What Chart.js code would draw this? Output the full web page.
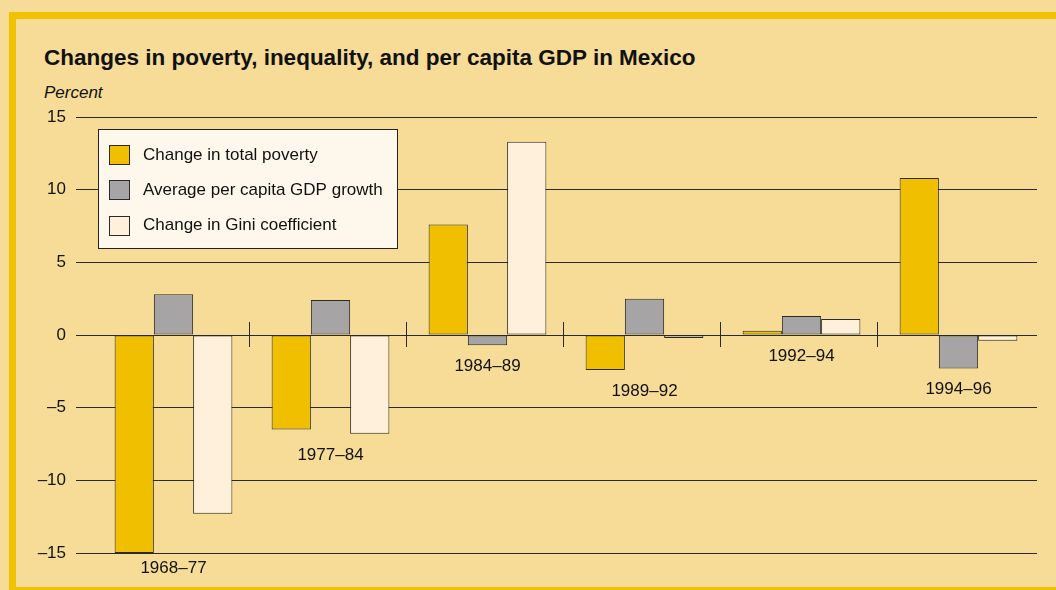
<!DOCTYPE html>
<html>
<head>
<meta charset="utf-8">
<script src="https://cdn.jsdelivr.net/npm/chart.js@4.4.1/dist/chart.umd.min.js"></script>
<style>
  html, body { margin: 0; padding: 0; }
  body {
    width: 1056px; height: 590px; overflow: hidden; position: relative;
    background: #f6dc97;
    font-family: "Liberation Sans", Arial, sans-serif;
  }
  #frame {
    position: absolute; left: 9px; top: 12px; width: 1100px; height: 568px;
    border-top: 7px solid #f2c200; border-left: 7px solid #f2c200; border-bottom: 7px solid #f2c200;
  }
  #title {
    position: absolute; left: 44px; top: 45px;
    font-size: 22.5px; font-weight: bold; color: #111;
  }
  #unit {
    position: absolute; left: 44px; top: 83px;
    font-size: 17px; font-style: italic; color: #111;
  }
  canvas { position: absolute; left: 0; top: 0; }
</style>
</head>
<body>
<div id="frame"></div>
<div id="title">Changes in poverty, inequality, and per capita GDP in Mexico</div>
<div id="unit">Percent</div>
<canvas id="chart" width="1056" height="590"></canvas>

<script>

const periods = ["1968–77", "1977–84", "1984–89", "1989–92", "1992–94", "1994–96"];

const povertyChange = [-15.0, -6.5, 7.6, -2.4, 0.3, 10.8];
const gdpGrowth = [2.8, 2.4, -0.7, 2.5, 1.3, -2.3];
const giniChange = [-12.3, -6.8, 13.3, -0.2, 1.1, -0.4];

const yTicks = [-15, -10, -5, 0, 5, 10, 15];

const FONT = '"Liberation Sans", Arial, sans-serif';
const INK = "#2a2a2a";

// separators between periods and the period labels under each group
const periodMarks = {
    id: "periodMarks",
    afterDatasetsDraw(chart) {
        const { ctx, chartArea } = chart;
        const x = chart.scales.x;
        const y = chart.scales.y;
        const zero = y.getPixelForValue(0);

        ctx.save();
        ctx.strokeStyle = INK;
        ctx.lineWidth = 1;
        for (let i = 0; i < periods.length - 1; i++) {
            const px = Math.round((x.getPixelForValue(i) + x.getPixelForValue(i + 1)) / 2) - 2.5;
            ctx.beginPath();
            ctx.moveTo(px, zero - 13);
            ctx.lineTo(px, zero + 12);
            ctx.stroke();
        }

        ctx.fillStyle = "#111";
        ctx.font = "17px " + FONT;
        ctx.textAlign = "center";
        ctx.textBaseline = "middle";
        periods.forEach((p, i) => {
            const low = Math.min(0, povertyChange[i], gdpGrowth[i], giniChange[i]);
            let ly = y.getPixelForValue(low) + 21;
            ly = Math.min(ly, chartArea.bottom + 15);
            ctx.fillText(p, x.getPixelForValue(i), ly);
        });
        ctx.restore();
    }
};

// boxed legend inside the plot
const boxLegend = {
    id: "boxLegend",
    afterDatasetsDraw(chart) {
        const { ctx } = chart;
        const left = 98, top = 129, w = 299, h = 119;
        ctx.save();
        ctx.fillStyle = "#fdf7ec";
        ctx.fillRect(left, top, w, h);
        ctx.strokeStyle = "#222";
        ctx.lineWidth = 1;
        ctx.strokeRect(left + 0.5, top + 0.5, w, h);

        ctx.font = "17px " + FONT;
        ctx.textBaseline = "middle";
        ctx.textAlign = "left";
        chart.data.datasets.forEach((ds, i) => {
            const cy = 155 + i * 35.3;
            ctx.fillStyle = ds.backgroundColor;
            ctx.fillRect(109, Math.round(cy - 10), 21, 20);
            ctx.strokeStyle = INK;
            ctx.strokeRect(109.5, Math.round(cy - 10) + 0.5, 20, 19);
            ctx.fillStyle = "#111";
            ctx.fillText(ds.label, 143, cy);
        });
        ctx.restore();
    }
};

const ctx = document.getElementById("chart").getContext("2d");

const chart = new Chart(ctx, {
    type: "bar",
    data: {
        labels: periods,
        datasets: [
            {
                label: "Change in total poverty",
                data: povertyChange,
                backgroundColor: "#f0c000"
            },
            {
                label: "Average per capita GDP growth",
                data: gdpGrowth,
                backgroundColor: "#a6a4a4"
            },
            {
                label: "Change in Gini coefficient",
                data: giniChange,
                backgroundColor: "#fef0da"
            }
        ]
    },
    options: {
        responsive: false,
        animation: false,
        devicePixelRatio: 1,
        layout: { padding: { left: 0, top: 117, right: 19, bottom: 37 } },
        datasets: {
            bar: {
                borderColor: INK,
                borderWidth: 1,
                borderSkipped: false,
                categoryPercentage: 0.75,
                barPercentage: 1.0
            }
        },
        plugins: {
            legend: { display: false },
            tooltip: { enabled: false }
        },
        scales: {
            x: {
                display: false,
                offset: true
            },
            y: {
                min: -15,
                max: 15,
                afterFit(scale) { scale.width = 95; },
                afterBuildTicks(scale) { scale.ticks = yTicks.map(v => ({ value: v })); },
                border: { display: false },
                grid: {
                    color: INK,
                    lineWidth: 1,
                    drawTicks: true,
                    tickLength: 19,
                    tickColor: INK
                },
                ticks: {
                    padding: 10,
                    color: "#111",
                    font: { family: FONT, size: 17 },
                    callback: v => String(v).replace("-", "–")
                }
            }
        }
    },
    plugins: [periodMarks, boxLegend]
});

</script>
</body>
</html>
